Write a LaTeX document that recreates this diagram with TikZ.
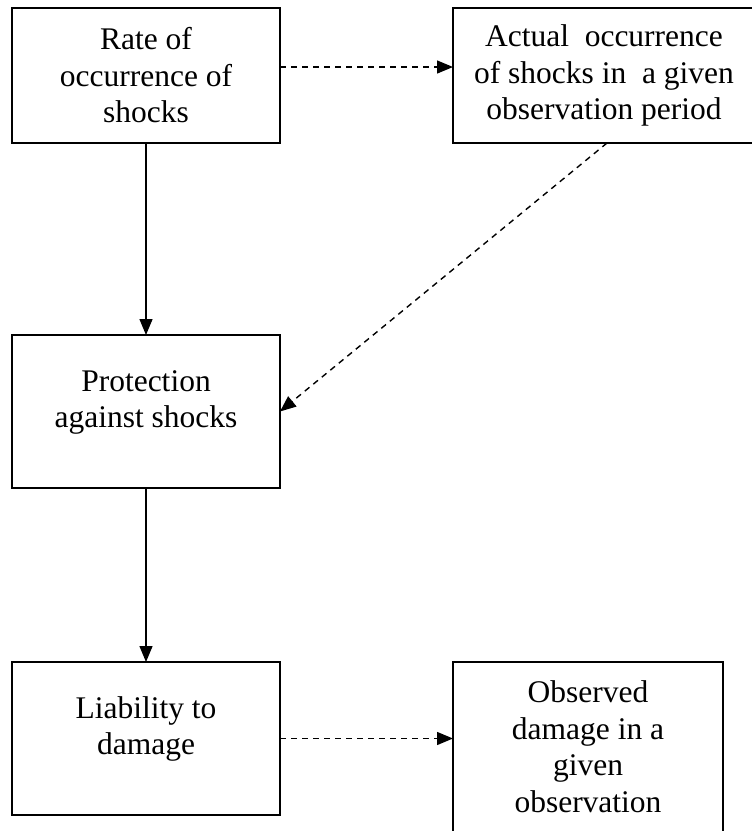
\documentclass[tikz,border=0pt]{standalone}
\usepackage{fontspec}
\setmainfont{Liberation Serif}
\usetikzlibrary{arrows.meta}
\begin{document}
\begin{tikzpicture}[x=1pt,y=-1pt,
  box/.style={draw,line width=1.6pt,rectangle,inner sep=0pt,outer sep=0pt},
  every label/.style={align=center,font=\fontsize{31.5}{36.5}\selectfont,inner sep=0pt},
  solidarrow/.style={line width=1.4pt,-{Triangle[length=16pt,width=13pt]}},
  dasharrow/.style={line width=1.4pt,dash pattern=on 6pt off 5pt,-{Triangle[length=16pt,width=13pt]}}]
\useasboundingbox (0,0) rectangle (752,831);
\clip (0,0) rectangle (752,831);
\node[box,minimum width=268pt,minimum height=135pt,
  label={center:Rate of\\occurrence of\\shocks}] (b1) at (146,75.5) {};
\node[box,minimum width=302pt,minimum height=135pt,
  label={center:Actual\ \ occurrence\\of shocks in\ \ a given\\observation period}] (b2) at (604,75.5) {};
\node[box,minimum width=268pt,minimum height=153pt,
  label={[yshift=9pt]center:Protection\\against shocks}] (b3) at (146,411.5) {};
\node[box,minimum width=268pt,minimum height=153pt,
  label={[yshift=9.5pt]center:Liability to\\damage}] (b4) at (146,738.5) {};
\node[box,minimum width=270pt,minimum height=178pt,
  label={[yshift=4.5pt]center:Observed\\damage in a\\given\\observation}] (b5) at (588,751) {};
\draw[dasharrow] ([yshift=8.5pt]b1.east) -- ([yshift=8.5pt]b1.east -| b2.west);
\draw[solidarrow] (b1.south) -- (b3.north);
\draw[dasharrow] ([xshift=3pt]b2.south) -- (b3.east);
\draw[solidarrow] (b3.south) -- (b4.north);
\draw[dasharrow] (b4.east) -- (b4.east -| b5.west);
\end{tikzpicture}
\end{document}
